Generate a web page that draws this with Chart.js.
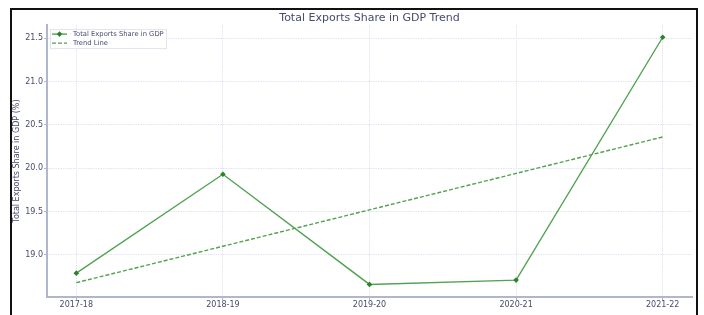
<!DOCTYPE html>
<html>
<head>
<meta charset="utf-8">
<script src="https://cdn.jsdelivr.net/npm/chart.js@4"></script>
<style>
  html, body { margin: 0; padding: 0; background: #fff; overflow: hidden; }
  body { width: 704px; height: 315px; position: relative; }
  #frame {
    position: absolute; left: 10px; top: 8px; width: 688px; height: 320px;
    border: 2px solid #111; box-sizing: border-box; background: #fff;
  }
  #wrap { position: absolute; left: 0px; top: 0px; width: 686px; height: 305px; }
</style>
</head>
<body>
<div id="frame"><div id="wrap"><canvas id="myChart"></canvas></div></div>
<script>
// Chart data
const years = ['2017-18', '2018-19', '2019-20', '2020-21', '2021-22'];
const exportShare = [18.79, 19.93, 18.66, 18.71, 21.51];
// trend line end points
const trendLine = [18.68, null, null, null, 20.36];
const yTicks = [19.0, 19.5, 20.0, 20.5, 21.0, 21.5];

const textColor = '#474b6c';
const lineGreen = '#52a252';
const markerGreen = '#2a852a';
const gridColor = '#e2e3f2';
const spineColor = '#b2b6cc';

function toPoints(values) {
    return values.map(function (v, i) { return { x: i, y: v }; });
}

// legend drawn inside the plot, top left
const innerLegend = {
    id: 'innerLegend',
    afterDraw(chart) {
        const ctx = chart.ctx;
        const area = chart.chartArea;
        const x0 = area.left + 3, y0 = area.top + 4;
        ctx.save();
        ctx.fillStyle = 'rgba(255,255,255,0.85)';
        ctx.strokeStyle = '#e2e4ee';
        ctx.lineWidth = 1;
        ctx.fillRect(x0, y0, 116, 19);
        ctx.strokeRect(x0 + 0.5, y0 + 0.5, 116, 19);
        ctx.font = '6.8px "DejaVu Sans"';
        ctx.textBaseline = 'middle';
        chart.data.datasets.forEach(function (ds, i) {
            const y = y0 + 5 + i * 9;
            ctx.strokeStyle = ds.borderColor;
            ctx.lineWidth = 1.4;
            ctx.setLineDash(ds.borderDash || []);
            ctx.beginPath();
            ctx.moveTo(x0 + 2, y);
            ctx.lineTo(x0 + 17, y);
            ctx.stroke();
            ctx.setLineDash([]);
            if (ds.pointRadius > 0) {
                ctx.fillStyle = ds.pointBackgroundColor;
                ctx.beginPath();
                ctx.moveTo(x0 + 9.5, y - 2.8);
                ctx.lineTo(x0 + 12.3, y);
                ctx.lineTo(x0 + 9.5, y + 2.8);
                ctx.lineTo(x0 + 6.7, y);
                ctx.closePath();
                ctx.fill();
            }
            ctx.fillStyle = textColor;
            ctx.fillText(ds.label, x0 + 23, y + 0.5);
        });
        ctx.restore();
    }
};

function createChart() {
    const ctx = document.getElementById('myChart').getContext('2d');
    new Chart(ctx, {
        type: 'line',
        data: {
            datasets: [{
                label: 'Total Exports Share in GDP',
                data: toPoints(exportShare),
                borderColor: lineGreen,
                borderWidth: 1.4,
                pointStyle: 'rectRot',
                pointRadius: 2.8,
                pointBackgroundColor: markerGreen,
                pointBorderColor: markerGreen,
                pointBorderWidth: 0,
                tension: 0
            }, {
                label: 'Trend Line',
                data: toPoints(trendLine),
                borderColor: lineGreen,
                borderWidth: 1.4,
                borderDash: [4, 2],
                pointRadius: 0,
                spanGaps: true,
                tension: 0
            }]
        },
        options: {
            responsive: true,
            maintainAspectRatio: false,
            animation: false,
            layout: { padding: { left: 0, right: 6, top: 0, bottom: 0 } },
            plugins: {
                legend: { display: false },
                tooltip: { enabled: false },
                title: {
                    display: true,
                    fullSize: false,
                    text: 'Total Exports Share in GDP Trend',
                    color: textColor,
                    font: { family: 'DejaVu Sans', size: 11, weight: 'normal', lineHeight: 1.1 },
                    padding: { top: 2, bottom: 1 }
                }
            },
            scales: {
                x: {
                    type: 'linear',
                    min: -0.2,
                    max: 4.2,
                    afterBuildTicks: function (axis) {
                        axis.ticks = years.map(function (y, i) { return { value: i }; });
                    },
                    afterFit: function (axis) { axis.height = 18; },
                    ticks: {
                        color: textColor,
                        font: { family: 'DejaVu Sans', size: 8 },
                        padding: 0,
                        maxRotation: 0,
                        callback: function (v) { return years[v]; }
                    },
                    grid: { color: gridColor, lineWidth: 1, tickLength: 3, tickColor: spineColor },
                    border: { color: spineColor, width: 2, dash: [1.5, 1] }
                },
                y: {
                    min: 18.515,
                    max: 21.65,
                    afterBuildTicks: function (axis) {
                        axis.ticks = yTicks.map(function (v) { return { value: v }; });
                    },
                    afterFit: function (axis) { axis.width = 35; },
                    ticks: {
                        color: textColor,
                        font: { family: 'DejaVu Sans', size: 8 },
                        padding: 1,
                        callback: function (v) { return v.toFixed(1); }
                    },
                    grid: { color: gridColor, lineWidth: 1, tickLength: 3, tickColor: spineColor },
                    border: { color: spineColor, width: 2, dash: [1.5, 1] },
                    title: {
                        display: true,
                        text: 'Total Exports Share in GDP (%)',
                        color: textColor,
                        font: { family: 'DejaVu Sans', size: 8 },
                        padding: { top: 0, bottom: 0 }
                    }
                }
            }
        },
        plugins: [innerLegend]
    });
}

createChart();
</script>
</body>
</html>
